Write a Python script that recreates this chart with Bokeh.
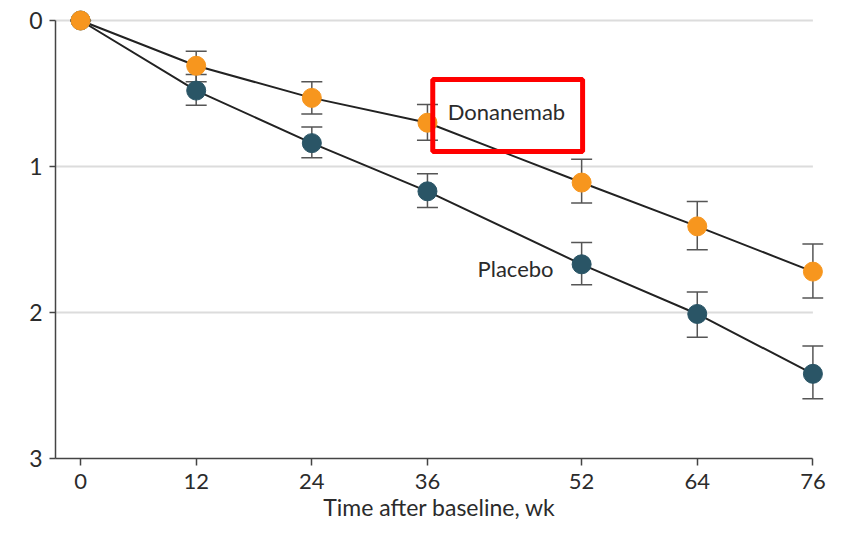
from bokeh.plotting import figure
from bokeh.models import (ColumnDataSource, Range1d, FixedTicker, Whisker, TeeHead,
                          Label, BoxAnnotation)
from bokeh.embed import file_html
from bokeh.resources import INLINE

# ---- data ----
weeks = [0, 12, 24, 36, 52, 64, 76]
dona_mean = [0.0, 0.31, 0.53, 0.70, 1.11, 1.41, 1.72]
dona_lower = [0.0, 0.21, 0.42, 0.575, 0.95, 1.24, 1.53]
dona_upper = [0.0, 0.42, 0.64, 0.82, 1.25, 1.57, 1.90]
plac_mean = [0.0, 0.48, 0.84, 1.17, 1.67, 2.01, 2.42]
plac_lower = [0.0, 0.37, 0.73, 1.05, 1.52, 1.86, 2.23]
plac_upper = [0.0, 0.58, 0.94, 1.28, 1.81, 2.17, 2.59]
y_ticks = [0, 1, 2, 3]
x_label = "Time after baseline, wk"
series_labels = ["Donanemab", "Placebo"]

ORANGE = "#F7961E"
TEAL = "#2A5566"
FONT = "Lato"
TXT = "#2b2b2b"

x_min, x_max = -2.6, 76
y_min, y_max = 0, 3

p = figure(width=827, height=523, output_backend="svg", toolbar_location=None,
           x_range=Range1d(x_min, 77.1), y_range=Range1d(3.0, -0.0753),
           min_border_left=55, min_border_right=4, min_border_top=9, min_border_bottom=65)
p.outline_line_color = None
p.background_fill_color = "white"
p.border_fill_color = "white"
p.xgrid.visible = False
p.ygrid.visible = False

# gridlines
gy = [t for t in y_ticks if t != y_max]
p.segment(x0=[x_min] * len(gy), x1=[x_max] * len(gy), y0=gy, y1=gy,
          line_color="#dcdcdc", line_width=2, level="underlay")

# axes
for ax in (p.xaxis[0], p.yaxis[0]):
    ax.axis_line_color = "#444444"
    ax.axis_line_width = 1.5
    ax.major_tick_line_color = "#444444"
    ax.major_tick_line_width = 1.5
    ax.minor_tick_line_color = None
    ax.major_tick_in = 0
    ax.major_label_text_font = FONT
    ax.major_label_text_color = TXT
    ax.major_label_text_font_size = "22px"
p.yaxis.major_label_text_font_size = "23px"
p.xaxis.bounds = (x_min, x_max)
p.yaxis.bounds = (y_min, y_max)
p.xaxis.ticker = FixedTicker(ticks=weeks)
p.yaxis.ticker = FixedTicker(ticks=y_ticks)
p.xaxis.major_tick_out = 7
p.yaxis.major_tick_out = 6
p.xaxis.major_label_standoff = 8
p.yaxis.major_label_standoff = 7
p.xaxis.axis_label = x_label
p.xaxis.axis_label_text_font = FONT
p.xaxis.axis_label_text_font_style = "normal"
p.xaxis.axis_label_text_font_size = "23px"
p.xaxis.axis_label_text_color = TXT
p.xaxis.axis_label_standoff = 1

src_d = ColumnDataSource(dict(x=weeks, y=dona_mean, lo=dona_lower, hi=dona_upper))
src_p = ColumnDataSource(dict(x=weeks, y=plac_mean, lo=plac_lower, hi=plac_upper))

p.line("x", "y", source=src_p, line_color="#222222", line_width=2)
p.line("x", "y", source=src_d, line_color="#222222", line_width=2)

for src in (src_p, src_d):
    w = Whisker(base="x", upper="hi", lower="lo", source=src, dimension="height",
                line_color="#555555", line_width=1.5,
                upper_head=TeeHead(size=21, line_color="#555555", line_width=1.5),
                lower_head=TeeHead(size=21, line_color="#555555", line_width=1.5))
    p.add_layout(w)

p.scatter("x", "y", source=src_p, size=19, fill_color=TEAL, line_color=TEAL)
p.scatter("x", "y", source=src_d, size=19, fill_color=ORANGE, line_color=ORANGE)

p.add_layout(Label(x=38.1, y=0.62, text=series_labels[0], text_font=FONT,
                   text_font_size="22px", text_color=TXT, text_baseline="middle"))
p.add_layout(Label(x=41.2, y=1.70, text=series_labels[1], text_font=FONT,
                   text_font_size="22px", text_color=TXT, text_baseline="middle"))

# red highlight box
p.add_layout(BoxAnnotation(left=36.55, right=52.1, top=0.404, bottom=0.897,
                           fill_color=None, fill_alpha=0, line_color="#ff0000",
                           line_alpha=1.0, line_width=5))

open("out.html", "w").write(file_html(p, INLINE))
